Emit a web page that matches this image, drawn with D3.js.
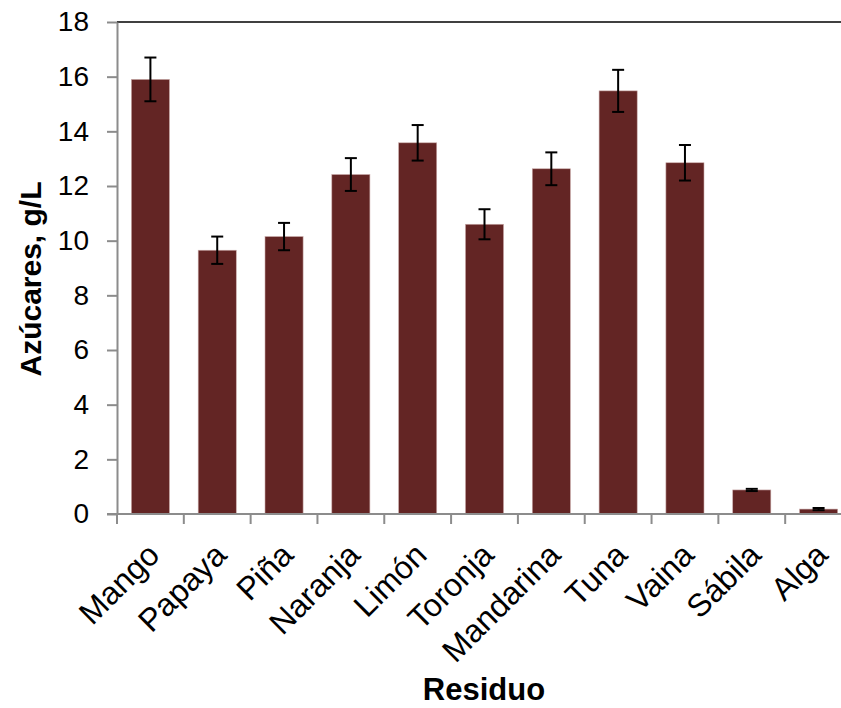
<!DOCTYPE html>
<html>
<head>
<meta charset="utf-8">
<script src="https://cdn.jsdelivr.net/npm/d3@7"></script>
<style>
  html, body { margin: 0; padding: 0; background: #fff; }
  svg { display: block; font-family: "Liberation Sans", Arial, sans-serif; }
</style>
</head>
<body>
<svg id="chart" width="841" height="708"></svg>
<script>
// Residue types and measured sugar concentration (g/L) with standard deviation
const categories = ["Mango", "Papaya", "Piña", "Naranja", "Limón", "Toronja",
                    "Mandarina", "Tuna", "Vaina", "Sábila", "Alga"];
const sugars = [15.9, 9.65, 10.15, 12.42, 13.58, 10.6, 12.63, 15.48, 12.85, 0.88, 0.18];
const errors = [0.8, 0.5, 0.5, 0.6, 0.65, 0.55, 0.6, 0.77, 0.65, 0.04, 0.04];
const yTicks = [0, 2, 4, 6, 8, 10, 12, 14, 16, 18];

const svg = d3.select("#chart");
const plotLeft = 117, plotRight = 852, plotTop = 22, plotBottom = 514;

const x = d3.scaleBand().domain(categories).range([plotLeft, plotRight])
  .paddingInner(0.43).paddingOuter(0.215);
const y = d3.scaleLinear().domain([0, 18]).range([plotBottom, plotTop]);

const axisGray = "#8c8c8c";
const barColor = "#632524";

// top frame line
svg.append("line")
  .attr("x1", plotLeft).attr("x2", plotRight).attr("y1", y(18)).attr("y2", y(18))
  .attr("stroke", "#000").attr("stroke-width", 1.5);

// bars
svg.append("g").selectAll("rect").data(categories).join("rect")
  .attr("x", d => x(d))
  .attr("width", x.bandwidth())
  .attr("y", (d, i) => y(sugars[i]))
  .attr("height", (d, i) => y(0) - y(sugars[i]))
  .attr("fill", barColor)
  .attr("stroke", "#c9a9a8").attr("stroke-width", 0.6);

// error bars
const eg = svg.append("g").attr("stroke", "#000").attr("stroke-width", 2);
categories.forEach((c, i) => {
  const cx = x(c) + x.bandwidth() / 2;
  const hi = y(sugars[i] + errors[i]), lo = y(sugars[i] - errors[i]);
  eg.append("line").attr("x1", cx).attr("x2", cx).attr("y1", hi).attr("y2", lo);
  eg.append("line").attr("x1", cx - 6).attr("x2", cx + 6).attr("y1", hi).attr("y2", hi);
  eg.append("line").attr("x1", cx - 6).attr("x2", cx + 6).attr("y1", lo).attr("y2", lo);
});

// y axis
const yAxis = svg.append("g").attr("transform", `translate(${plotLeft},0)`)
  .call(d3.axisLeft(y).tickValues(yTicks).tickSize(10).tickPadding(18).tickSizeOuter(0));
yAxis.select(".domain").attr("stroke", axisGray).attr("stroke-width", 2);
yAxis.selectAll(".tick line").attr("stroke", axisGray).attr("stroke-width", 2);
yAxis.selectAll(".tick text").attr("font-size", 28).attr("fill", "#000")
  .attr("font-family", "Liberation Sans, Arial, sans-serif");

// x axis with ticks on category boundaries
const xAxisG = svg.append("g");
xAxisG.append("line").attr("x1", plotLeft - 10).attr("x2", plotRight)
  .attr("y1", plotBottom).attr("y2", plotBottom)
  .attr("stroke", axisGray).attr("stroke-width", 2);
const gap = x.step() - x.bandwidth();
const boundaries = categories.map(c => x(c) - gap / 2);
xAxisG.selectAll("line.tk").data(boundaries).join("line").attr("class", "tk")
  .attr("x1", d => d).attr("x2", d => d).attr("y1", plotBottom).attr("y2", plotBottom + 10)
  .attr("stroke", axisGray).attr("stroke-width", 2);

// rotated category labels
svg.append("g").selectAll("text").data(categories).join("text")
  .attr("transform", d => `translate(${x(d) + x.bandwidth() / 2 + 11},${plotBottom + 43}) rotate(-45)`)
  .attr("text-anchor", "end")
  .attr("font-size", 32)
  .text(d => d);

// axis titles
svg.append("text")
  .attr("x", 484).attr("y", 700)
  .attr("text-anchor", "middle").attr("font-size", 31).attr("font-weight", "bold")
  .text("Residuo");
svg.append("text")
  .attr("transform", "translate(41,279) rotate(-90)")
  .attr("text-anchor", "middle").attr("font-size", 30).attr("font-weight", "bold")
  .text("Azúcares, g/L");
</script>
</body>
</html>
